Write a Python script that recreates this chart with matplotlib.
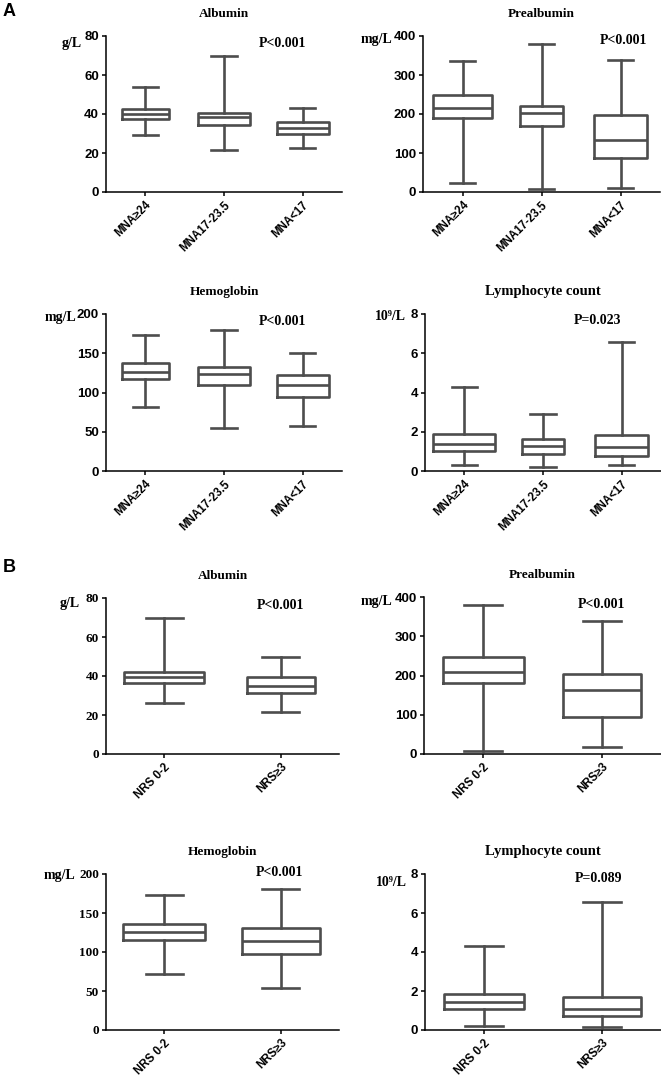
import matplotlib
matplotlib.use("Agg")
import matplotlib.pyplot as plt

# ---- data (whisker low, q1, median, q3, whisker high) ----
mna_groups = ["MNA\u226524", "MNA17-23.5", "MNA<17"]
nrs_groups = ["NRS 0-2", "NRS\u22653"]

a_albumin = [[29, 37.3, 39.8, 42.7, 53.7],
             [21.4, 34.3, 38.6, 40.7, 69.9],
             [22.7, 29.9, 32.6, 35.9, 42.9]]
a_prealbumin = [[24, 190.6, 214.5, 248.7, 336],
                [7, 169, 201.7, 220.5, 380],
                [11, 88, 133, 196.6, 338.5]]
a_hemoglobin = [[81.3, 116.6, 126.4, 137.4, 172.8],
                [54.5, 109.4, 123.4, 131.9, 180],
                [57.4, 94.5, 110, 122, 149.8]]
a_lymphocyte = [[0.29, 1.02, 1.36, 1.91, 4.29],
                [0.19, 0.89, 1.29, 1.62, 2.91],
                [0.31, 0.78, 1.23, 1.84, 6.55]]

b_albumin = [[26.3, 36.2, 39.3, 42.1, 69.7],
             [21.3, 31.1, 34.7, 39.7, 50]]
b_prealbumin = [[7.7, 181.7, 209, 246.5, 378.7],
                [17, 93, 163, 203, 339.5]]
b_hemoglobin = [[72, 116, 125.5, 135.8, 173],
                [54.4, 97.2, 113.5, 131, 180.7]]
b_lymphocyte = [[0.21, 1.08, 1.42, 1.83, 4.31],
                [0.17, 0.74, 1.08, 1.68, 6.58]]

titles = ["Albumin", "Prealbumin", "Hemoglobin", "Lymphocyte count"]
units = ["g/L", "mg/L", "mg/L", "10\u2079/L"]
ymax = [80, 400, 200, 8]
yticks = [[0, 20, 40, 60, 80], [0, 100, 200, 300, 400],
          [0, 50, 100, 150, 200], [0, 2, 4, 6, 8]]
a_pvals = ["P<0.001", "P<0.001", "P<0.001", "P=0.023"]
b_pvals = ["P<0.001", "P<0.001", "P<0.001", "P=0.089"]

SERIF = ["Liberation Serif", "DejaVu Serif"]
SANS = ["Liberation Sans", "DejaVu Sans"]
LINE = "#4d4d4d"
W, H = 661, 1079

fig = plt.figure(figsize=(W / 100, H / 100), dpi=100)


def px_axes(left, right, top, bottom):
    return fig.add_axes([left / W, 1 - bottom / H, (right - left) / W, (bottom - top) / H])


def draw_panel(rect, stats, groups, k, pval, widths, p_xy, unit_off,
               title_size, serif_ticks=False):
    ax = px_axes(*rect)
    bxp = []
    for lo, q1, med, q3, hi in stats:
        bxp.append(dict(whislo=lo, q1=q1, med=med, q3=q3, whishi=hi, fliers=[]))
    pos = list(range(len(groups)))
    lw = 1.9
    ax.bxp(bxp, positions=pos, widths=widths, capwidths=0.32, showfliers=False,
           boxprops=dict(color=LINE, lw=lw),
           medianprops=dict(color=LINE, lw=lw),
           whiskerprops=dict(color=LINE, lw=lw),
           capprops=dict(color=LINE, lw=lw))
    ax.set_xlim(-0.5, len(groups) - 0.5)
    ax.set_ylim(0, ymax[k])
    ax.set_yticks(yticks[k])
    ax.set_xticks(pos)
    ax.set_xticklabels(groups, rotation=45, ha="right", rotation_mode="anchor",
                       family=SANS, fontweight="bold", fontsize=8.3)
    yfam = SERIF if serif_ticks else SANS
    ax.set_yticklabels([str(v) for v in yticks[k]], family=yfam,
                       fontweight="bold", fontsize=9.5)
    for s in ["top", "right"]:
        ax.spines[s].set_visible(False)
    for s in ["left", "bottom"]:
        ax.spines[s].set_linewidth(1.1)
    ax.tick_params(direction="out", length=3, width=1.1, pad=2)
    ax.set_title(titles[k], family=SERIF, fontweight="bold",
                 fontsize=title_size, pad=14)
    ax.text(p_xy[0], p_xy[1], pval, transform=ax.transAxes, ha="center",
            va="center", family=SERIF, fontweight="bold", fontsize=10)
    ax.annotate(units[k], xy=(0, 1), xycoords="axes fraction",
                xytext=unit_off, textcoords="offset pixels", ha="right",
                va="center", family=SERIF, fontweight="bold", fontsize=10)
    return ax


# ---- panel A ----
draw_panel((106, 342, 36, 192), a_albumin, mna_groups, 0, a_pvals[0],
           [0.6, 0.67, 0.66], (0.746, 0.955), (-24, -7), 9.5)
draw_panel((423, 660, 36, 192), a_prealbumin, mna_groups, 1, a_pvals[1],
           [0.74, 0.55, 0.67], (0.844, 0.97), (-31, -3), 9.5)
draw_panel((106, 342, 314, 471), a_hemoglobin, mna_groups, 2, a_pvals[2],
           [0.6, 0.67, 0.66], (0.746, 0.95), (-30, -4), 9.5)
draw_panel((425, 661, 314, 471), a_lymphocyte, mna_groups, 3, a_pvals[3],
           [0.79, 0.53, 0.67], (0.73, 0.96), (-19, -3), 10.5)

# ---- panel B ----
draw_panel((106, 339, 598, 754), b_albumin, nrs_groups, 0, b_pvals[0],
           [0.69, 0.58], (0.747, 0.955), (-26, -5), 9.5, serif_ticks=True)
draw_panel((424, 661, 597, 754), b_prealbumin, nrs_groups, 1, b_pvals[1],
           [0.68, 0.66], (0.747, 0.955), (-32, -4), 9.5)
draw_panel((106, 339, 874, 1030), b_hemoglobin, nrs_groups, 2, b_pvals[2],
           [0.7, 0.67], (0.745, 1.01), (-31, -1), 9.5, serif_ticks=True)
draw_panel((425, 661, 874, 1030), b_lymphocyte, nrs_groups, 3, b_pvals[3],
           [0.68, 0.66], (0.735, 0.97), (-18, -8), 10.5)

fig.text(3 / W, 1 - 12 / H, "A", family=SANS, fontweight="bold", fontsize=13,
         ha="left", va="center")
fig.text(3 / W, 1 - 568 / H, "B", family=SANS, fontweight="bold", fontsize=13,
         ha="left", va="center")

fig.savefig("out.png", dpi=100, facecolor="white")
